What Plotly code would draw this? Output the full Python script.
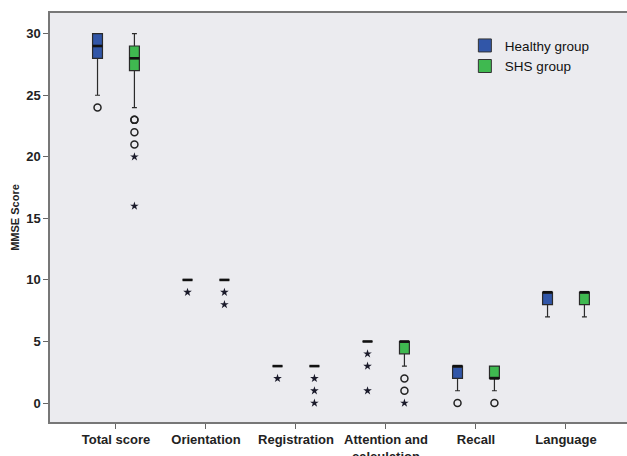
import plotly.graph_objects as go

# MMSE subscale categories
categories = ["Total score", "Orientation", "Registration",
              "Attention and<br>calculation", "Recall", "Language"]

# Healthy group box statistics
healthy_q1 = [28, 10, 3, 5, 2, 8]
healthy_median = [29, 10, 3, 5, 3, 9]
healthy_q3 = [30, 10, 3, 5, 3, 9]
healthy_lower = [25, 10, 3, 5, 1, 7]
healthy_upper = [30, 10, 3, 5, 3, 9]
healthy_outliers = [[24], [], [], [], [0], []]
healthy_extremes = [[], [9], [2], [4, 3, 1], [], []]

# SHS group box statistics
shs_q1 = [27, 10, 3, 4, 2, 8]
shs_median = [28, 10, 3, 5, 2, 9]
shs_q3 = [29, 10, 3, 5, 3, 9]
shs_lower = [24, 10, 3, 3, 1, 7]
shs_upper = [30, 10, 3, 5, 3, 9]
shs_outliers = [[23, 23, 22, 21], [], [], [2, 1], [0], []]
shs_extremes = [[20, 16], [9, 8], [2, 1, 0], [0], [], []]

BLUE = "#3156a8"
GREEN = "#3fb950"
OFFSET = 0.205
BOX_W = 0.11
FONT = "Liberation Sans, Arial, sans-serif"

fig = go.Figure()

groups = [
    ("Healthy group", BLUE, -OFFSET, healthy_q1, healthy_median, healthy_q3,
     healthy_lower, healthy_upper, healthy_outliers, healthy_extremes),
    ("SHS group", GREEN, OFFSET, shs_q1, shs_median, shs_q3,
     shs_lower, shs_upper, shs_outliers, shs_extremes),
]

for name, color, off, q1, med, q3, lo, hi, outl, extr in groups:
    xs = [i + off for i in range(len(categories))]
    fig.add_trace(go.Box(
        x=xs, q1=q1, median=med, q3=q3, lowerfence=lo, upperfence=hi,
        width=BOX_W, whiskerwidth=0.5, boxpoints=False,
        fillcolor=color, line=dict(color="#2a2a2a", width=1.2),
        showlegend=False, hoverinfo="skip",
    ))
    # heavy median bars
    mx, my = [], []
    for x, m in zip(xs, med):
        mx += [x - BOX_W / 2, x + BOX_W / 2, None]
        my += [m, m, None]
    fig.add_trace(go.Scatter(
        x=mx, y=my, mode="lines", line=dict(color="#111111", width=2.6),
        showlegend=False, hoverinfo="skip",
    ))
    # outliers (open circles) and extremes (stars)
    ox, oy, ex, ey = [], [], [], []
    for x, o, e in zip(xs, outl, extr):
        ox += [x] * len(o)
        oy += o
        ex += [x] * len(e)
        ey += e
    fig.add_trace(go.Scatter(
        x=ox, y=oy, mode="markers",
        marker=dict(symbol="circle-open", size=7, color="#222222",
                    line=dict(width=1.5, color="#222222")),
        showlegend=False, hoverinfo="skip",
    ))
    fig.add_trace(go.Scatter(
        x=ex, y=ey, mode="markers",
        marker=dict(symbol="star", size=6.5, color="#1a1a2a"),
        showlegend=False, hoverinfo="skip",
    ))
    # legend entry
    fig.add_trace(go.Scatter(
        x=[None], y=[None], mode="markers", name=name,
        marker=dict(symbol="square", size=13, color=color,
                    line=dict(color="#333333", width=1)),
    ))

fig.update_layout(
    width=627, height=456,
    margin=dict(l=50, r=0, t=13, b=34, autoexpand=False),
    paper_bgcolor="white",
    plot_bgcolor="#ebebef",
    font=dict(family=FONT, color="#222222"),
    legend=dict(
        x=0.719, y=0.958, xanchor="left", yanchor="top",
        bgcolor="rgba(0,0,0,0)", font=dict(size=13.5, color="#111111"),
        itemwidth=30, tracegroupgap=0,
    ),
)

fig.update_xaxes(
    range=[-0.733, 5.678],
    tickmode="array", tickvals=list(range(len(categories))),
    ticktext=[f"<b>{c}</b>" for c in categories],
    tickfont=dict(size=13, color="#222222"),
    ticks="outside", ticklen=5, tickcolor="#666666",
    showline=True, linecolor="#777777", linewidth=1.5, mirror=True,
    showgrid=False, zeroline=False, automargin=False,
)

fig.update_yaxes(
    range=[-1.54, 31.68],
    tickvals=[0, 5, 10, 15, 20, 25, 30],
    ticktext=[f"<b>{v}</b>" for v in [0, 5, 10, 15, 20, 25, 30]],
    tickfont=dict(size=13, color="#222222"),
    ticks="outside", ticklen=5, tickcolor="#666666",
    showline=True, linecolor="#777777", linewidth=1.5,
    showgrid=False, zeroline=False, automargin=False,
    title=dict(text="<b>MMSE Score</b>", font=dict(size=11, color="#222222"),
               standoff=4),
)

fig.write_html("out.html")
